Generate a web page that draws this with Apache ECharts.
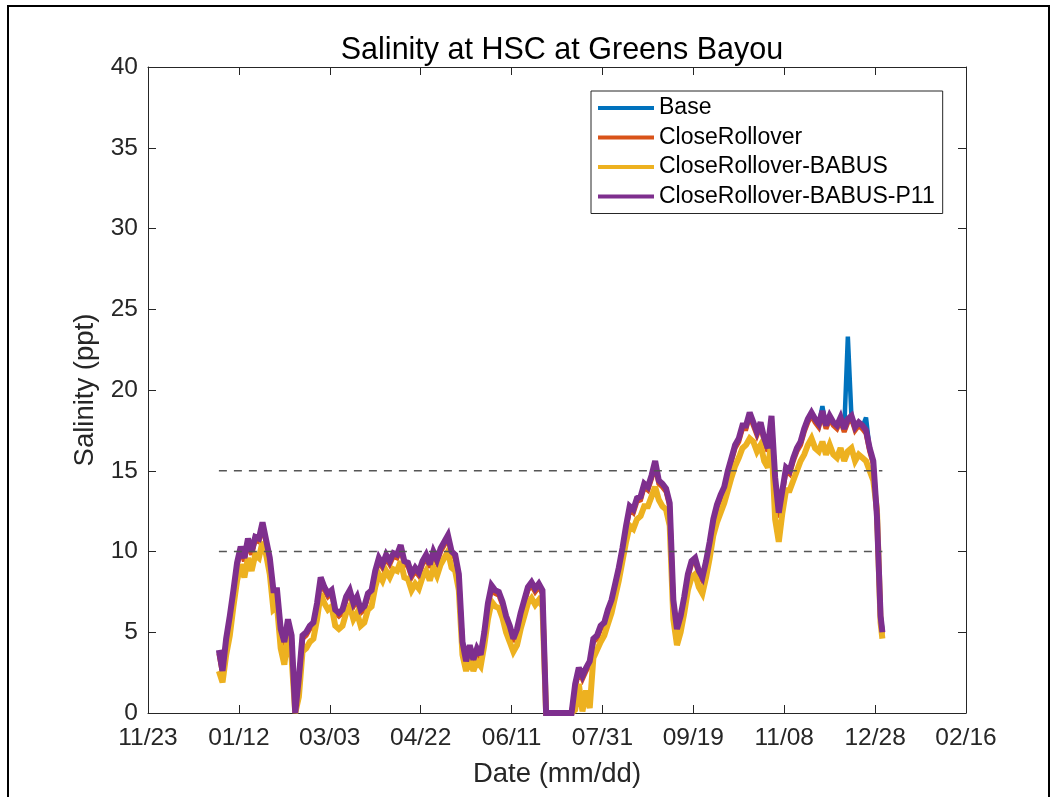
<!DOCTYPE html>
<html>
<head>
<meta charset="utf-8">
<script src="https://cdn.jsdelivr.net/npm/echarts@6/dist/echarts.min.js"></script>
<style>
html,body{margin:0;padding:0;background:#fff;}
#chart{width:1055px;height:797px;}
</style>
</head>
<body>
<div id="chart"></div>
<script>
// x = days since 2018-11-23 (tick labels shown as mm/dd)
const startDateUTC = Date.UTC(2018, 10, 23);
const days = [39,41,43,45,47,49,51,53,55,57,
 59,61,63,65,67,69,71,73,75,77,
 79,81,83,85,87,89,91,93,95,97,
 99,101,103,105,107,109,111,113,115,117,
 119,121,123,125,127,129,131,133,135,137,
 139,141,143,145,147,149,151,153,155,157,
 159,161,163,165,167,169,171,173,175,177,
 179,181,183,185,187,189,191,193,195,197,
 199,201,203,205,207,209,211,213,215,217,
 219,221,223,225,227,229,231,233,235,237,
 239,241,243,245,247,249,251,253,255,257,
 259,261,263,265,267,269,271,273,275,277,
 279,281,283,285,287,289,291,293,295,297,
 299,301,303,305,307,309,311,313,315,317,
 319,321,323,325,327,329,331,333,335,337,
 339,341,343,345,347,349,351,353,355,357,
 359,361,363,365,367,369,371,373,375,377,
 379,381,383,385,387,389,391,393,395,397,
 399,401,403,404];

const baseVals = [3.8,2.5,4.5,5.9,7.5,9.2,10.2,9.5,10.7,9.9,
 10.8,10.7,11.7,10.6,9.5,7.5,7.5,5.1,4.3,5.7,
 4.7,0.0,2.1,4.7,4.9,5.3,5.5,6.7,8.3,7.7,
 7.3,7.5,6.3,6.1,6.3,7.1,7.5,6.7,7.1,6.3,
 6.5,7.3,7.5,8.7,9.5,9.1,9.7,9.3,9.8,9.7,
 10.3,9.3,9.2,8.5,8.9,8.6,9.3,9.7,9.1,9.9,
 9.4,10.1,10.5,10.9,9.9,9.7,8.5,4.5,3.3,4.1,
 3.2,3.9,3.5,4.9,6.7,7.8,7.5,7.4,6.8,5.9,
 5.3,4.5,5.1,6.1,6.9,7.7,8.0,7.6,7.9,7.5,
 0,0,0,0,0,0,0,0,1.7,2.7,
 2.2,2.7,3.1,4.5,4.7,5.3,5.5,6.3,6.9,7.9,
 8.9,10.1,11.5,12.7,12.5,13.2,13.3,14.1,13.9,14.6,
 15.5,14.3,14.1,13.8,12.9,6.9,5.1,5.9,7.1,8.5,
 9.3,9.5,8.7,8.3,9.3,10.5,11.9,12.8,13.4,13.9,
 14.9,15.7,16.5,16.9,17.7,17.7,18.5,17.9,17.3,17.9,
 16.9,16.3,18.3,14.5,12.3,13.7,15.1,14.9,15.7,16.3,
 16.7,17.5,18.1,18.5,18.1,17.8,19.0,17.7,18.3,17.9,
 17.7,18.2,17.5,23.3,18.3,17.6,17.9,17.7,18.3,16.3,
 15.5,12.1,6.1,5.2];

const closeRolloverVals = [3.7,2.4,4.4,5.8,7.4,9.1,10.1,9.4,10.6,9.8,
 10.7,10.6,11.6,10.5,9.4,7.4,7.4,5.0,4.2,5.6,
 4.6,0.0,2.0,4.6,4.8,5.2,5.4,6.6,8.2,7.6,
 7.2,7.4,6.2,6.0,6.2,7.0,7.4,6.6,7.0,6.2,
 6.4,7.2,7.4,8.6,9.4,9.0,9.6,9.2,9.7,9.6,
 10.2,9.2,9.1,8.4,8.8,8.5,9.2,9.6,9.0,9.8,
 9.3,10.0,10.4,10.8,9.8,9.6,8.4,4.2,3.0,4.0,
 3.1,3.8,3.4,4.8,6.6,7.7,7.4,7.3,6.7,5.8,
 5.2,4.4,5.0,6.0,6.8,7.6,7.9,7.5,7.8,7.4,
 0,0,0,0,0,0,0,0,1.5,2.6,
 2.1,2.6,3.0,4.4,4.6,5.2,5.4,6.2,6.8,7.8,
 8.8,10.0,11.4,12.6,12.4,13.1,13.2,14.0,13.8,14.5,
 15.3,14.2,14.0,13.7,12.8,6.8,5.0,5.8,7.0,8.4,
 9.2,9.4,8.6,8.2,9.2,10.4,11.8,12.7,13.3,13.8,
 14.8,15.6,16.4,16.8,17.6,17.6,18.4,17.8,17.2,17.8,
 16.8,16.2,18.2,14.3,12.1,13.6,15.0,14.8,15.6,16.2,
 16.6,17.4,18.0,18.4,18.0,17.7,18.5,17.6,18.2,17.8,
 17.6,18.1,17.4,18.0,18.2,17.5,17.8,17.6,17.3,16.2,
 15.4,12.1,5.9,4.9];

const babusVals = [2.6,1.9,3.6,4.8,6.6,8.2,9.2,8.4,9.6,8.8,
 9.8,9.6,10.6,9.8,8.6,6.4,6.6,4.0,3.0,4.8,
 3.4,0.0,1.0,3.8,4.0,4.4,4.6,5.8,7.4,6.8,
 6.4,6.6,5.4,5.2,5.4,6.2,6.6,5.8,6.2,5.4,
 5.6,6.4,6.6,7.8,8.6,8.2,8.8,8.4,8.9,8.8,
 9.4,8.4,8.3,7.6,8.0,7.7,8.4,8.8,8.2,9.0,
 8.5,9.2,9.6,10.0,9.0,8.8,7.6,3.6,2.6,3.4,
 2.6,3.2,2.9,4.2,5.8,6.9,6.6,6.5,5.9,5.0,
 4.4,3.8,4.2,5.2,6.0,6.8,7.1,6.7,7.0,6.6,
 0,0,0,0,0,0,0,0,0.2,1.8,
 0.1,1.4,0.3,3.4,3.9,4.4,4.8,5.5,6.2,7.2,
 8.2,9.4,10.6,11.6,11.4,12.0,12.2,12.8,12.8,13.4,
 14.0,13.2,12.8,12.6,11.6,5.8,4.2,5.0,6.2,7.6,
 8.4,8.6,7.8,7.4,8.4,9.6,11.0,11.8,12.4,13.0,
 13.8,14.6,15.3,15.8,16.4,16.6,17.0,16.8,16.2,16.6,
 15.6,15.2,16.8,12.0,10.6,12.4,13.8,13.8,14.4,15.0,
 15.6,16.0,16.6,17.0,16.4,16.2,16.8,16.0,16.6,16.0,
 15.8,16.4,15.6,16.2,16.4,15.6,16.0,15.8,15.6,15.0,
 14.4,12.6,5.6,4.6];

const p11Vals = [3.9,2.6,4.6,6.0,7.6,9.3,10.3,9.6,10.8,10.0,
 10.9,10.8,11.8,10.7,9.6,7.6,7.6,5.2,4.4,5.8,
 4.8,0.0,2.2,4.8,5.0,5.4,5.6,6.8,8.4,7.8,
 7.4,7.6,6.4,6.2,6.4,7.2,7.6,6.8,7.2,6.4,
 6.6,7.4,7.6,8.8,9.6,9.2,9.8,9.4,9.9,9.8,
 10.4,9.4,9.3,8.6,9.0,8.7,9.4,9.8,9.2,10.0,
 9.5,10.2,10.6,11.0,10.0,9.8,8.6,4.4,3.2,4.2,
 3.3,4.0,3.6,5.0,6.8,7.9,7.6,7.5,6.9,6.0,
 5.4,4.6,5.2,6.2,7.0,7.8,8.1,7.7,8.0,7.6,
 0,0,0,0,0,0,0,0,1.8,2.8,
 2.3,2.8,3.2,4.6,4.8,5.4,5.6,6.4,7.0,8.0,
 9.0,10.2,11.6,12.8,12.6,13.3,13.4,14.2,14.0,14.7,
 15.6,14.4,14.2,13.9,13.0,7.0,5.2,6.0,7.2,8.6,
 9.4,9.6,8.8,8.4,9.4,10.6,12.0,12.9,13.5,14.0,
 15.0,15.8,16.6,17.0,17.8,17.8,18.6,18.0,17.4,18.0,
 17.0,16.4,18.4,14.6,12.4,13.8,15.2,15.0,15.8,16.4,
 16.8,17.6,18.2,18.6,18.2,17.9,18.7,17.8,18.4,18.0,
 17.8,18.3,17.6,18.2,18.4,17.7,18.0,17.8,17.5,16.4,
 15.6,12.2,6.0,5.0];

const seriesNames = ['Base', 'CloseRollover', 'CloseRollover-BABUS', 'CloseRollover-BABUS-P11'];
const seriesValues = [baseVals, closeRolloverVals, babusVals, p11Vals];
const seriesColors = ['#0072BD', '#D95319', '#EDB120', '#7E2F8E'];
const seriesWidths = [4.5, 5, 6, 6];

const thresholdValues = [10, 15];
const thresholdStartDay = 39;
const thresholdEndDay = 404;

const xMin = 0, xMax = 450, xStep = 50;
const yMin = 0, yMax = 40, yStep = 5;

function pad2(n){ return (n < 10 ? '0' : '') + n; }
function dayLabel(v){
  const d = new Date(startDateUTC + v * 86400000);
  return pad2(d.getUTCMonth() + 1) + '/' + pad2(d.getUTCDate());
}
function toPairs(vals){ return days.map((d, i) => [d, vals[i]]); }

const FONT = '"Liberation Sans", Arial, Helvetica, sans-serif';
const AX = '#262626';

const chart = echarts.init(document.getElementById('chart'), null, {renderer: 'canvas'});

const series = seriesNames.map((name, i) => ({
  name: name,
  type: 'line',
  data: toPairs(seriesValues[i]),
  showSymbol: false,
  symbol: 'none',
  color: seriesColors[i],
  lineStyle: {color: seriesColors[i], width: seriesWidths[i], join: 'miter', miterLimit: 3},
  emphasis: {disabled: true},
  z: 2 + i
}));

thresholdValues.forEach((t, k) => {
  series.push({
    name: 'threshold' + k,
    type: 'line',
    data: [[thresholdStartDay, t], [thresholdEndDay, t]],
    showSymbol: false,
    symbol: 'none',
    lineStyle: {color: '#555555', width: 1.6, type: [8, 7]},
    emphasis: {disabled: true},
    z: 10
  });
});

const option = {
  animation: false,
  backgroundColor: '#fff',
  textStyle: {fontFamily: FONT},
  title: {
    text: 'Salinity at HSC at Greens Bayou',
    left: 557, top: 30, textAlign: 'center',
    textStyle: {fontSize: 30.5, fontWeight: 'normal', color: '#000', fontFamily: FONT}
  },
  graphic: [{
    type: 'rect', silent: true, z: 100,
    shape: {x: 8, y: 6, width: 1041, height: 820},
    style: {fill: 'none', stroke: '#000', lineWidth: 2}
  }],
  grid: {left: 148, right: 89, top: 67, bottom: 84},
  legend: {
    data: seriesNames,
    orient: 'vertical',
    left: 591, top: 91,
    icon: 'rect',
    itemWidth: 56, itemHeight: 4,
    itemGap: 5.5,
    padding: [5, 8, 5, 7],
    borderColor: AX, borderWidth: 1,
    backgroundColor: '#fff',
    textStyle: {fontSize: 23, color: '#000', lineHeight: 24, fontFamily: FONT},
    selectedMode: false,
    z: 20
  },
  xAxis: [{
    type: 'value', min: xMin, max: xMax, interval: xStep, position: 'bottom',
    axisLine: {show: true, onZero: false, lineStyle: {color: AX, width: 1}},
    axisTick: {show: true, inside: true, length: 8, lineStyle: {color: AX}},
    axisLabel: {formatter: dayLabel, fontSize: 24.5, color: AX, margin: 13, fontFamily: FONT},
    splitLine: {show: false},
    name: 'Date (mm/dd)', nameLocation: 'middle', nameGap: 47,
    nameTextStyle: {fontSize: 27.5, color: AX, fontFamily: FONT}
  }, {
    type: 'value', min: xMin, max: xMax, interval: xStep, position: 'top',
    axisLine: {show: true, onZero: false, lineStyle: {color: AX, width: 1}},
    axisTick: {show: true, inside: true, length: 8, lineStyle: {color: AX}},
    axisLabel: {show: false},
    splitLine: {show: false}
  }],
  yAxis: [{
    type: 'value', min: yMin, max: yMax, interval: yStep, position: 'left',
    axisLine: {show: true, onZero: false, lineStyle: {color: AX, width: 1}},
    axisTick: {show: true, inside: true, length: 8, lineStyle: {color: AX}},
    axisLabel: {fontSize: 24.5, color: AX, margin: 10, fontFamily: FONT},
    splitLine: {show: false},
    name: 'Salinity (ppt)', nameLocation: 'middle', nameGap: 44, nameRotate: 90,
    nameTextStyle: {fontSize: 27.5, color: AX, fontFamily: FONT}
  }, {
    type: 'value', min: yMin, max: yMax, interval: yStep, position: 'right',
    axisLine: {show: true, onZero: false, lineStyle: {color: AX, width: 1}},
    axisTick: {show: true, inside: true, length: 8, lineStyle: {color: AX}},
    axisLabel: {show: false},
    splitLine: {show: false}
  }],
  series: series
};

chart.setOption(option);
</script>
</body>
</html>
